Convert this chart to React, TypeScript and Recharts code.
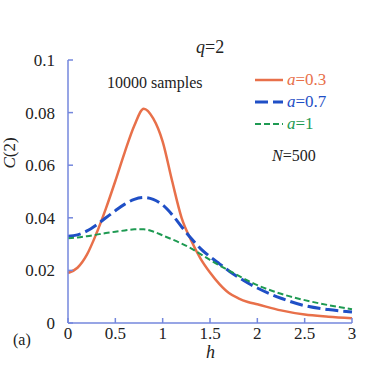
import React from "react";
import { LineChart, Line, XAxis, YAxis, Legend } from "recharts";

const hValues = [
  0, 0.1, 0.2, 0.3, 0.4, 0.5, 0.6, 0.7, 0.8, 0.9, 1.0, 1.1, 1.2, 1.3, 1.4, 1.5,
  1.6, 1.7, 1.8, 1.9, 2.0, 2.25, 2.5, 2.75, 3.0,
];
const a03 = [
  0.019, 0.021, 0.026, 0.034, 0.0435, 0.054, 0.065, 0.075, 0.0815, 0.0778,
  0.069, 0.054, 0.04, 0.0315, 0.0245, 0.0192, 0.0148, 0.0114, 0.0094, 0.008,
  0.0071, 0.0048, 0.0032, 0.0024, 0.0018,
];
const a07 = [
  0.033, 0.0335, 0.035, 0.0373, 0.04, 0.0427, 0.0452, 0.047, 0.0477, 0.047,
  0.0449, 0.0412, 0.0366, 0.0322, 0.0283, 0.0252, 0.0225, 0.0198, 0.0174,
  0.0152, 0.0133, 0.0094, 0.0066, 0.0051, 0.0042,
];
const a1 = [
  0.0322, 0.0325, 0.033, 0.0336, 0.0342, 0.0347, 0.0352, 0.0356, 0.0356,
  0.0348, 0.0333, 0.0318, 0.0302, 0.0284, 0.0262, 0.024, 0.0219, 0.0199, 0.018,
  0.0161, 0.0144, 0.0111, 0.0087, 0.0068, 0.0052,
];
const xTicks = [0, 0.5, 1, 1.5, 2, 2.5, 3];
const yTicks = [0, 0.02, 0.04, 0.06, 0.08, 0.1];

const series = [
  { key: "a03", label: "0.3", color: "#e8704a", width: 2.5, dash: undefined },
  { key: "a07", label: "0.7", color: "#1f4fc6", width: 3, dash: "13 5" },
  { key: "a1", label: "1", color: "#1e9a52", width: 2, dash: "6 3" },
];

const data = hValues.map((h, i) => ({ h, a03: a03[i], a07: a07[i], a1: a1[i] }));

const serif = "'Liberation Serif', 'DejaVu Serif', serif";
const axisColor = "#7487dd";

const renderLegend = () => (
  <div style={{ fontFamily: serif, fontSize: 17 }}>
    {series.map((s) => (
      <div key={s.key} style={{ display: "flex", alignItems: "center", height: 22 }}>
        <svg width={28} height={6}>
          <line x1={0} y1={3} x2={28} y2={3} stroke={s.color} strokeWidth={s.width} strokeDasharray={s.dash} />
        </svg>
        <span style={{ color: s.color, marginLeft: 4 }}>
          <i>a</i>={s.label}
        </span>
      </div>
    ))}
  </div>
);

const textStyle: React.CSSProperties = {
  position: "absolute",
  fontFamily: serif,
  color: "#222",
  whiteSpace: "nowrap",
};

export default function App() {
  return (
    <div style={{ position: "absolute", left: 0, top: 0, width: 374, height: 366, background: "#fff", fontFamily: serif }}>
      <LineChart width={374} height={366} data={data} margin={{ top: 60, right: 22, left: 18, bottom: 13 }}>
        <XAxis
          dataKey="h"
          type="number"
          domain={[0, 3]}
          ticks={xTicks}
          height={30}
          tickSize={-5}
          tickMargin={9}
          stroke={axisColor}
          strokeWidth={1.5}
          tick={{ fill: "#222", fontSize: 17, fontFamily: serif }}
        />
        <XAxis
          xAxisId="top"
          orientation="top"
          type="number"
          domain={[0, 3]}
          ticks={xTicks}
          height={0}
          tickSize={-5}
          tick={false}
          stroke={axisColor}
          strokeWidth={1.5}
          allowDataOverflow
        />
        <YAxis
          type="number"
          domain={[0, 0.1]}
          ticks={yTicks}
          width={50}
          tickSize={-5}
          tickMargin={18}
          stroke={axisColor}
          strokeWidth={1.5}
          tickFormatter={(v) => String(v)}
          tick={{ fill: "#222", fontSize: 17, fontFamily: serif }}
        />
        <YAxis
          yAxisId="right"
          orientation="right"
          type="number"
          domain={[0, 0.1]}
          ticks={yTicks}
          width={0}
          tickSize={-5}
          tick={false}
          stroke={axisColor}
          strokeWidth={1.5}
          allowDataOverflow
        />
        <Legend
          content={renderLegend}
          layout="vertical"
          align="center"
          verticalAlign="middle"
          wrapperStyle={{ left: 255, top: 69, width: 110 }}
        />
        {series.map((s) => (
          <Line
            key={s.key}
            dataKey={s.key}
            type="monotone"
            stroke={s.color}
            strokeWidth={s.width}
            strokeDasharray={s.dash}
            dot={false}
            isAnimationActive={false}
          />
        ))}
      </LineChart>
      <div style={{ ...textStyle, left: 196, top: 37, fontSize: 18 }}>
        <i>q</i>=2
      </div>
      <div style={{ ...textStyle, left: 107, top: 74, fontSize: 16 }}>10000 samples</div>
      <div style={{ ...textStyle, left: 272, top: 147, fontSize: 16 }}>
        <i>N</i>=500
      </div>
      <div style={{ ...textStyle, left: -6, top: 143, fontSize: 17, transform: "rotate(-90deg)" }}>
        <i>C</i>(2)
      </div>
      <div style={{ ...textStyle, left: 206, top: 342, fontSize: 18 }}>
        <i>h</i>
      </div>
      <div style={{ ...textStyle, left: 13, top: 331, fontSize: 16 }}>(a)</div>
    </div>
  );
}
